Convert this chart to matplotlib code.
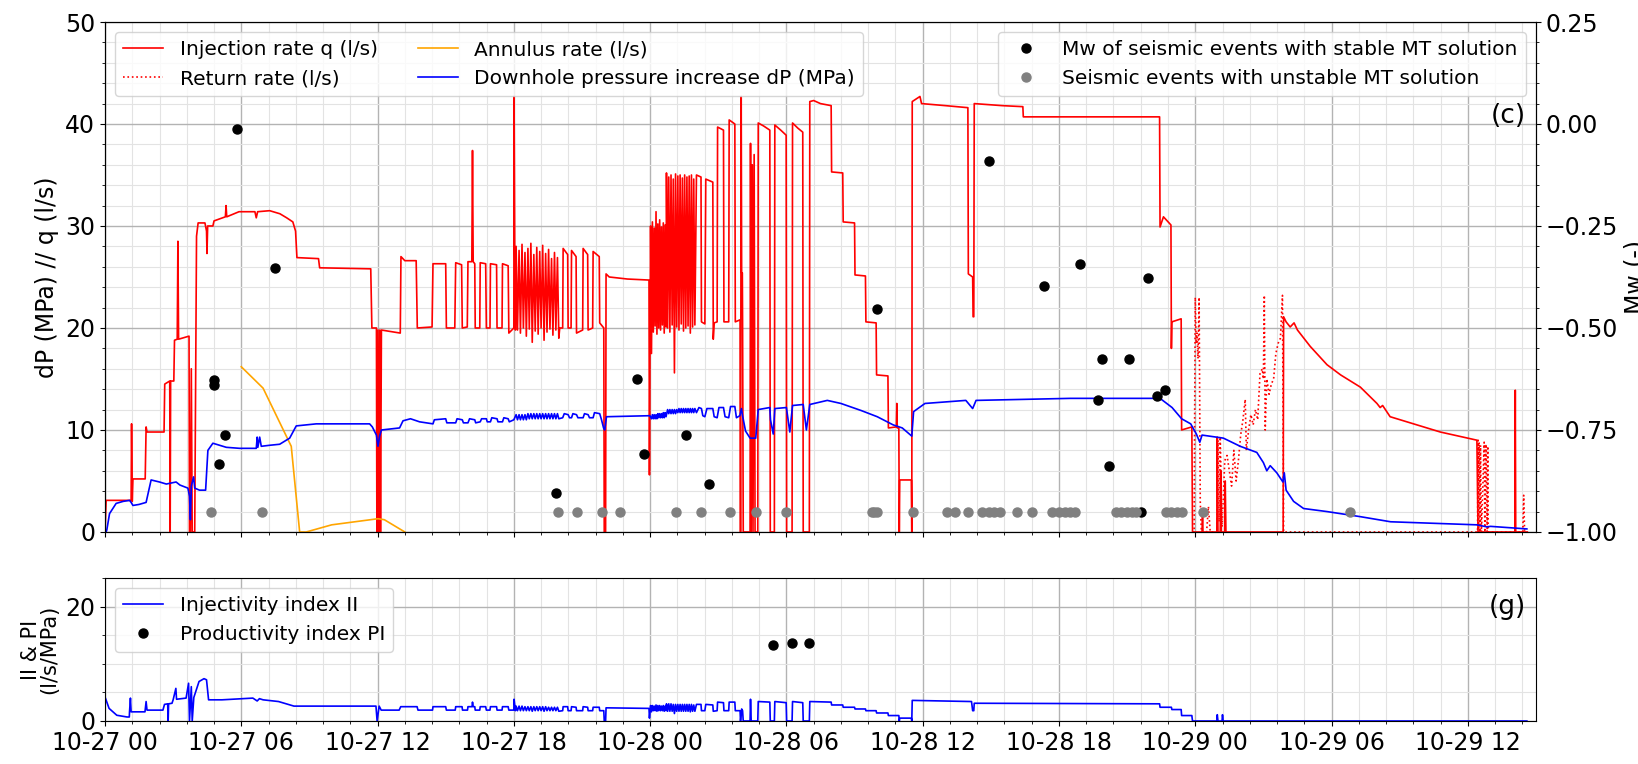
import matplotlib
matplotlib.use("Agg")
import matplotlib.pyplot as plt
import matplotlib.dates as mdates
import numpy as np
from datetime import datetime
from matplotlib.ticker import AutoMinorLocator, MultipleLocator

# time axis: hours after 10-27 00:00
T0 = mdates.date2num(datetime(2018, 10, 27))
X_END_H = 63.0

# injection rate q (l/s), (hour, value)
inj_pts = [
    (0.00, 0), (0.05, 3.1), (1.15, 3.1), (1.17, 10.6), (1.20, 3.0), (1.23, 5.2), (1.77, 5.2),
    (1.81, 10.3), (1.85, 9.8), (2.60, 9.8), (2.63, 14.5), (2.85, 14.8), (2.87, 0), (2.89, 14.8),
    (3.03, 14.8), (3.06, 18.8), (3.18, 18.9), (3.21, 28.5), (3.24, 18.9), (3.70, 19.2), (3.72, 0),
    (3.76, 0), (3.80, 16.0), (3.84, 0), (3.95, 0), (4.03, 29.0), (4.10, 30.3), (4.40, 30.3),
    (4.47, 29.5), (4.49, 27.3), (4.52, 30.0), (4.75, 30.0), (4.80, 30.5), (5.30, 30.9), (5.33, 32.0),
    (5.36, 30.9), (5.90, 31.4), (6.60, 31.4), (6.66, 30.8), (6.72, 31.4), (7.25, 31.5), (7.70, 31.2),
    (8.00, 30.8), (8.27, 30.4), (8.39, 29.5), (8.45, 26.9), (9.40, 26.8), (9.45, 25.9), (11.70, 25.8),
    (11.75, 20.0), (11.95, 20.0), (11.97, 0), (12.02, 19.8), (12.05, 0), (12.10, 19.8), (12.13, 0),
    (12.17, 19.8), (13.00, 19.5), (13.03, 27.0), (13.20, 26.6), (13.70, 26.6), (13.75, 20.0),
    (14.40, 20.1), (14.44, 26.3), (15.00, 26.3), (15.03, 20.0), (15.40, 20.0), (15.44, 26.4),
    (15.70, 26.2), (15.73, 20.0), (15.95, 20.1), (15.98, 26.5), (16.15, 26.5), (16.18, 37.4),
    (16.21, 26.5), (16.28, 26.3), (16.30, 20.0), (16.50, 20.0), (16.52, 26.4), (16.76, 26.3),
    (16.79, 20.0), (16.95, 20.0), (16.97, 26.3), (17.24, 26.2), (17.26, 20.0), (17.48, 20.0),
    (17.50, 26.3), (17.75, 26.1), (17.78, 19.5), (18.00, 20.0), (18.01, 42.7), (18.04, 27.5),
    (18.07, 19.8), (18.10, 28.0), (18.16, 19.8), (18.23, 27.6), (18.29, 19.5), (18.36, 28.2),
    (18.42, 20.0), (18.49, 27.4), (18.55, 19.2), (18.62, 27.8), (18.68, 19.9), (18.75, 28.3),
    (18.81, 18.6), (18.88, 27.2), (18.94, 19.7), (19.01, 27.9), (19.07, 19.4), (19.14, 27.5),
    (19.20, 20.0), (19.27, 28.1), (19.33, 18.8), (19.40, 27.3), (19.46, 19.6), (19.53, 27.7),
    (19.59, 19.9), (19.66, 26.8), (19.72, 19.3), (19.79, 27.4), (19.85, 19.8), (19.92, 26.9),
    (19.98, 19.0), (20.02, 20.0), (20.15, 20.0), (20.17, 27.8), (20.37, 27.2), (20.39, 20.0),
    (20.52, 20.0), (20.54, 27.6), (20.74, 27.0), (20.76, 19.5), (21.03, 19.8), (21.05, 27.8),
    (21.25, 27.2), (21.27, 19.8), (21.47, 20.0), (21.49, 27.5), (21.76, 27.0), (21.78, 20.5),
    (21.96, 20.0), (21.98, 0), (22.04, 0), (22.06, 25.3), (22.20, 25.0), (23.00, 24.8), (23.95, 24.7),
    (23.97, 5.6), (24.00, 20.0), (24.02, 30.0), (24.06, 17.5), (24.10, 30.4), (24.14, 19.6),
    (24.18, 29.8), (24.22, 20.2), (24.26, 31.4), (24.30, 19.4), (24.34, 30.2), (24.38, 20.0),
    (24.42, 30.6), (24.46, 19.8), (24.50, 29.9), (24.54, 20.3), (24.58, 30.3), (24.62, 19.5),
    (24.66, 30.1), (24.70, 20.1), (24.72, 35.2), (24.77, 20.0), (24.82, 34.8), (24.87, 19.6),
    (24.92, 35.0), (24.97, 20.3), (25.02, 34.6), (25.07, 15.6), (25.12, 35.1), (25.17, 20.1),
    (25.22, 34.9), (25.27, 19.8), (25.32, 35.0), (25.37, 20.4), (25.42, 34.7), (25.47, 19.7),
    (25.52, 35.0), (25.57, 20.0), (25.62, 34.8), (25.67, 20.2), (25.72, 34.9), (25.77, 19.5),
    (25.82, 35.0), (25.87, 20.1), (25.92, 34.6), (25.97, 20.3), (26.04, 35.0), (26.24, 34.8),
    (26.26, 20.6), (26.41, 20.4), (26.45, 34.6), (26.76, 34.3), (26.78, 18.9), (26.82, 20.5),
    (26.95, 20.6), (26.97, 39.7), (27.23, 39.4), (27.25, 20.6), (27.46, 20.6), (27.48, 40.4),
    (27.73, 40.0), (27.75, 20.6), (27.96, 20.8), (27.98, 0), (28.01, 42.7), (28.03, 25.4),
    (28.06, 25.4), (28.07, 20.8), (28.10, 0), (28.40, 0), (28.42, 38.1), (28.45, 0), (28.50, 36.0),
    (28.53, 0), (28.58, 37.0), (28.62, 0), (28.74, 0), (28.76, 40.1), (29.00, 39.8), (29.27, 39.4),
    (29.29, 0), (29.47, 0), (29.49, 39.9), (29.75, 39.4), (29.99, 38.9), (30.01, 0), (30.25, 0),
    (30.27, 40.1), (30.50, 39.6), (30.72, 39.2), (30.74, 0), (31.01, 0), (31.03, 42.2), (31.20, 42.3),
    (31.50, 42.0), (31.97, 41.8), (31.99, 35.3), (32.48, 35.2), (32.50, 30.4), (33.00, 30.3),
    (33.02, 25.2), (33.48, 25.1), (33.50, 20.6), (33.95, 20.5), (33.97, 15.4), (34.47, 15.3),
    (34.49, 10.2), (34.84, 10.3), (34.86, 12.6), (34.88, 10.2), (34.95, 10.2), (34.97, 0),
    (34.99, 5.1), (35.50, 5.1), (35.52, 0), (35.54, 42.2), (35.88, 42.7), (35.95, 42.0),
    (37.00, 41.8), (37.99, 41.6), (38.01, 25.3), (38.20, 25.0), (38.22, 21.1), (38.25, 21.1),
    (38.27, 42.0), (39.50, 41.8), (40.41, 41.7), (40.43, 40.7), (46.43, 40.7), (46.45, 29.9),
    (46.60, 30.9), (46.93, 30.1), (46.95, 18.0), (46.97, 20.6), (47.38, 20.9), (47.40, 10.0),
    (47.85, 10.3), (47.88, 0), (48.30, 0), (48.32, 2.0), (48.34, 0), (48.95, 0), (48.97, 9.3),
    (49.00, 0), (49.10, 0), (49.12, 6.0), (49.15, 0), (49.30, 0), (49.32, 5.0), (49.35, 0),
    (51.87, 0), (51.89, 21.1), (52.00, 20.6), (52.18, 20.1), (52.35, 20.5), (52.50, 19.8),
    (53.06, 18.2), (53.80, 16.4), (54.40, 15.4), (55.27, 14.2), (56.00, 12.6), (56.14, 12.2),
    (56.25, 12.4), (56.58, 11.3), (57.32, 10.8), (58.79, 9.8), (60.40, 9.0), (60.45, 0),
    (62.07, 0), (62.09, 13.9), (62.11, 0), (62.62, 0),
]

# return rate (l/s)
ret_pts = [
    (47.88, 0), (47.95, 0), (48.00, 23.0), (48.04, 18.5), (48.08, 19.5), (48.12, 17.0), (48.17, 23.0),
    (48.22, 3.0), (48.27, 0), (48.50, 0), (48.58, 2.5), (48.66, 0), (48.95, 0), (49.00, 9.0),
    (49.05, 1.0), (49.10, 9.3), (49.18, 0.5), (49.30, 7.0), (49.40, 7.5), (49.50, 6.0), (49.60, 4.5),
    (49.70, 8.0), (49.80, 5.0), (49.90, 7.0), (50.00, 9.5), (50.10, 11.0), (50.20, 13.0), (50.25, 8.0),
    (50.35, 10.0), (50.45, 11.5), (50.55, 10.5), (50.65, 12.0), (50.75, 11.0), (50.85, 15.5),
    (50.95, 16.0), (51.00, 15.0), (51.04, 23.2), (51.08, 10.0), (51.15, 15.0), (51.25, 13.5),
    (51.35, 14.5), (51.45, 15.0), (51.55, 17.5), (51.65, 18.5), (51.75, 19.0), (51.84, 23.2),
    (51.87, 10.0), (51.89, 0), (60.43, 0), (60.45, 9.0), (60.47, 0), (60.50, 8.8), (60.53, 0),
    (60.56, 8.5), (60.60, 0), (60.72, 8.8), (60.75, 0), (60.80, 8.6), (60.85, 0), (60.88, 8.4),
    (60.90, 0), (62.42, 0), (62.46, 3.6), (62.50, 0),
]

# annulus rate (l/s)
ann_pts = [(6.00, 16.2), (6.96, 14.1), (8.20, 8.4), (8.57, 0), (8.86, 0), (9.98, 0.7),
           (12.02, 1.3), (12.30, 1.2), (13.20, 0)]

# downhole pressure increase dP (MPa)
dp_pts = [
    (0.05, 0), (0.08, 0.2), (0.20, 1.8), (0.49, 2.8), (0.80, 3.0), (1.08, 3.1), (1.15, 2.9),
    (1.23, 2.6), (1.50, 2.7), (1.81, 2.9), (2.03, 5.1), (2.40, 4.9), (2.70, 4.7), (3.13, 4.9),
    (3.30, 4.6), (3.65, 4.3), (3.72, 3.5), (3.76, 1.2), (3.80, 4.5), (3.90, 5.4), (3.95, 4.3),
    (4.16, 4.1), (4.43, 4.1), (4.53, 8.0), (4.75, 8.7), (5.34, 8.3), (5.93, 8.2), (6.66, 8.2),
    (6.70, 9.3), (6.73, 8.3), (6.81, 9.3), (6.88, 8.4), (7.25, 8.5), (7.69, 8.6), (8.13, 9.2),
    (8.42, 10.4), (9.30, 10.6), (11.65, 10.6), (11.77, 10.3), (11.95, 9.5), (12.02, 8.4),
    (12.09, 9.4), (12.17, 10.0), (12.97, 10.2), (13.12, 10.9), (13.45, 11.1), (13.71, 10.9),
    (13.85, 10.8), (14.44, 10.6), (14.50, 11.0), (15.00, 11.1), (15.05, 10.7), (15.44, 10.7),
    (15.50, 11.1), (15.73, 11.0), (15.78, 10.7), (15.98, 10.7), (16.05, 11.1), (16.28, 11.0),
    (16.32, 10.7), (16.52, 10.8), (16.58, 11.1), (16.79, 11.1), (16.83, 10.8), (16.97, 10.8),
    (17.03, 11.2), (17.26, 11.1), (17.30, 10.8), (17.50, 10.8), (17.56, 11.2), (17.75, 11.1),
    (17.80, 10.8), (18.00, 11.0), (18.10, 11.5), (18.16, 11.0), (18.23, 11.5), (18.29, 11.0),
    (18.36, 11.5), (18.42, 11.0), (18.49, 11.5), (18.55, 11.0), (18.62, 11.6), (18.68, 11.1),
    (18.75, 11.6), (18.81, 11.1), (18.88, 11.6), (18.94, 11.1), (19.01, 11.6), (19.07, 11.1),
    (19.14, 11.6), (19.20, 11.1), (19.27, 11.6), (19.33, 11.1), (19.40, 11.6), (19.46, 11.1),
    (19.53, 11.6), (19.59, 11.1), (19.66, 11.6), (19.72, 11.1), (19.79, 11.6), (19.85, 11.1),
    (19.92, 11.6), (19.98, 11.1), (20.15, 11.2), (20.22, 11.6), (20.39, 11.5), (20.45, 11.2),
    (20.54, 11.2), (20.60, 11.6), (20.76, 11.5), (20.82, 11.2), (21.05, 11.2), (21.11, 11.6),
    (21.27, 11.5), (21.33, 11.2), (21.49, 11.2), (21.55, 11.7), (21.78, 11.6), (21.86, 11.0),
    (21.95, 10.2), (22.00, 10.0), (22.08, 11.3), (23.99, 11.4), (24.06, 11.1), (24.10, 11.5),
    (24.14, 11.1), (24.18, 11.5), (24.22, 11.1), (24.26, 11.5), (24.30, 11.1), (24.34, 11.6),
    (24.38, 11.2), (24.42, 11.6), (24.46, 11.2), (24.50, 11.6), (24.54, 11.2), (24.58, 11.7),
    (24.62, 11.2), (24.66, 11.7), (24.70, 11.3), (24.77, 12.0), (24.82, 11.6), (24.87, 12.0),
    (24.92, 11.6), (24.97, 12.0), (25.02, 11.6), (25.07, 12.0), (25.12, 11.6), (25.17, 12.0),
    (25.22, 11.7), (25.27, 12.1), (25.32, 11.7), (25.37, 12.1), (25.42, 11.7), (25.47, 12.1),
    (25.52, 11.7), (25.57, 12.1), (25.62, 11.7), (25.67, 12.1), (25.72, 11.7), (25.77, 12.1),
    (25.82, 11.7), (25.87, 12.1), (25.92, 11.7), (25.97, 12.1), (26.04, 11.7), (26.15, 12.2),
    (26.26, 12.1), (26.32, 11.4), (26.41, 11.3), (26.50, 12.1), (26.76, 12.1), (26.82, 11.3),
    (26.95, 11.2), (27.03, 12.2), (27.23, 12.2), (27.30, 11.3), (27.46, 11.2), (27.54, 12.3),
    (27.73, 12.3), (27.80, 11.2), (27.95, 11.4), (28.02, 12.1), (28.07, 11.4), (28.20, 9.9),
    (28.40, 9.2), (28.65, 9.2), (28.76, 12.0), (29.27, 12.2), (29.30, 11.0), (29.42, 9.6),
    (29.49, 12.1), (30.00, 12.2), (30.15, 9.8), (30.27, 12.4), (30.74, 12.5), (30.88, 10.0),
    (31.03, 12.5), (31.80, 12.9), (32.40, 12.6), (33.30, 11.9), (34.00, 11.3), (34.70, 10.5),
    (35.10, 10.2), (35.52, 9.4), (35.60, 11.8), (36.10, 12.6), (37.90, 12.9), (38.20, 12.1),
    (38.35, 12.9), (42.50, 13.1), (46.45, 13.1), (46.98, 12.2), (47.40, 11.1), (47.80, 10.6),
    (48.05, 9.6), (48.20, 8.8), (48.30, 9.5), (49.24, 9.2), (49.98, 8.4), (50.71, 7.8),
    (51.00, 6.8), (51.15, 6.0), (51.30, 6.5), (51.59, 5.8), (51.86, 4.9), (51.92, 5.8),
    (52.00, 4.1), (52.33, 3.0), (52.77, 2.3), (53.80, 2.0), (55.27, 1.5), (56.60, 1.0),
    (58.50, 0.85), (60.40, 0.7), (60.84, 0.5), (61.00, 0.55), (62.60, 0.3),
]

# seismic events
mw_stable_h = [4.78, 4.82, 5.01, 5.29, 5.82, 7.47, 19.85, 23.43, 23.71, 25.6, 26.59, 34.0,
               38.92, 41.34, 42.93, 43.7, 43.91, 44.22, 45.07, 45.6, 45.9, 46.31, 46.67]
mw_stable = [-0.627, -0.64, -0.833, -0.762, -0.0125, -0.354, -0.904, -0.626, -0.809, -0.762,
             -0.882, -0.454, -0.09, -0.397, -0.342, -0.676, -0.576, -0.838, -0.576, -0.95,
             -0.377, -0.666, -0.652]
unstable_h = [4.65, 6.92, 19.95, 20.76, 21.9, 22.67, 25.16, 26.23, 27.51, 28.66, 30.0, 33.75,
              33.87, 34.0, 35.59, 37.06, 37.42, 38.0, 38.6, 38.9, 39.15, 39.4, 40.17, 40.8,
              41.7, 42.0, 42.27, 42.5, 42.7, 44.5, 44.75, 45.0, 45.2, 45.4, 46.7, 46.95, 47.2,
              47.4, 48.33, 54.8]
unstable_mw = -0.95

# injectivity index II (l/s/MPa)
ii_pts = [
    (0.00, 4.2), (0.18, 2.2), (0.52, 1.0), (0.97, 0.7), (1.07, 0.7), (1.08, 1.6), (1.12, 4.0),
    (1.15, 1.6), (1.76, 1.6), (1.81, 3.4), (1.85, 1.9), (2.55, 1.9), (2.62, 2.9), (2.76, 3.0),
    (2.78, 0), (2.80, 3.0), (2.95, 3.1), (3.00, 3.7), (3.12, 5.7), (3.15, 3.8), (3.57, 4.0),
    (3.68, 6.6), (3.72, 0), (3.80, 6.0), (3.84, 0), (3.91, 4.1), (4.14, 6.9), (4.36, 7.4),
    (4.47, 7.2), (4.56, 3.7), (5.15, 3.7), (6.51, 4.0), (6.70, 3.5), (6.80, 3.9), (6.96, 3.7),
    (7.64, 3.4), (8.32, 2.6), (11.93, 2.6), (11.98, 0), (12.07, 2.6), (12.16, 1.9), (12.95, 1.9),
    (13.02, 2.5), (13.74, 2.5), (13.78, 1.9), (14.42, 1.9), (14.44, 2.5), (15.00, 2.5), (15.03, 1.9),
    (15.42, 1.9), (15.44, 2.5), (15.72, 2.5), (15.74, 1.9), (15.96, 1.9), (15.98, 2.5), (16.16, 2.5),
    (16.18, 3.3), (16.21, 2.5), (16.28, 2.5), (16.30, 1.9), (16.50, 1.9), (16.52, 2.5), (16.76, 2.5),
    (16.79, 1.9), (16.95, 1.9), (16.97, 2.5), (17.24, 2.5), (17.26, 1.9), (17.48, 1.9), (17.50, 2.5),
    (17.75, 2.5), (17.78, 1.9), (18.00, 1.9), (18.01, 3.8), (18.07, 1.8), (18.10, 2.6), (18.16, 1.8),
    (18.23, 2.6), (18.29, 1.8), (18.36, 2.6), (18.42, 1.8), (18.49, 2.5), (18.55, 1.8), (18.62, 2.5),
    (18.68, 1.8), (18.75, 2.5), (18.81, 1.7), (18.88, 2.5), (18.94, 1.8), (19.01, 2.5), (19.07, 1.8),
    (19.14, 2.5), (19.20, 1.8), (19.27, 2.5), (19.33, 1.7), (19.40, 2.5), (19.46, 1.8), (19.53, 2.4),
    (19.59, 1.8), (19.66, 2.4), (19.72, 1.8), (19.79, 2.4), (19.85, 1.8), (19.92, 2.4), (19.98, 1.7),
    (20.15, 1.8), (20.17, 2.5), (20.37, 2.5), (20.39, 1.8), (20.52, 1.8), (20.54, 2.5), (20.74, 2.4),
    (20.76, 1.8), (21.03, 1.8), (21.05, 2.5), (21.25, 2.4), (21.27, 1.8), (21.47, 1.8), (21.49, 2.4),
    (21.76, 2.4), (21.78, 1.8), (21.96, 1.8), (21.98, 0), (22.04, 0), (22.06, 2.3), (23.95, 2.2),
    (23.97, 0.5), (24.00, 1.8), (24.02, 2.7), (24.06, 1.6), (24.10, 2.7), (24.14, 1.8), (24.18, 2.6),
    (24.22, 1.8), (24.26, 2.8), (24.30, 1.7), (24.34, 2.7), (24.38, 1.8), (24.42, 2.7), (24.46, 1.8),
    (24.50, 2.6), (24.54, 1.8), (24.58, 2.7), (24.62, 1.7), (24.66, 2.6), (24.70, 1.8), (24.72, 3.0),
    (24.77, 1.7), (24.82, 3.0), (24.87, 1.7), (24.92, 3.0), (24.97, 1.7), (25.02, 2.9), (25.07, 1.3),
    (25.12, 2.9), (25.17, 1.7), (25.22, 2.9), (25.27, 1.7), (25.32, 2.9), (25.37, 1.7), (25.42, 2.9),
    (25.47, 1.7), (25.52, 2.9), (25.57, 1.7), (25.62, 2.9), (25.67, 1.7), (25.72, 2.9), (25.77, 1.6),
    (25.82, 2.9), (25.87, 1.7), (25.92, 2.8), (25.97, 1.7), (26.04, 2.9), (26.24, 2.9), (26.26, 1.8),
    (26.41, 1.8), (26.45, 2.9), (26.76, 2.8), (26.78, 1.7), (26.95, 1.8), (26.97, 3.3), (27.23, 3.2),
    (27.25, 1.8), (27.46, 1.8), (27.48, 3.3), (27.73, 3.3), (27.75, 1.8), (27.96, 1.8), (27.98, 0),
    (28.03, 2.1), (28.07, 1.8), (28.10, 0), (28.40, 0), (28.42, 3.8), (28.45, 0), (28.74, 0),
    (28.76, 3.4), (29.27, 3.3), (29.29, 0), (29.47, 0), (29.49, 3.4), (29.99, 3.2), (30.01, 0),
    (30.25, 0), (30.27, 3.4), (30.72, 3.2), (30.74, 0), (31.01, 0), (31.03, 3.4), (31.97, 3.3),
    (31.99, 2.8), (32.48, 2.8), (32.50, 2.4), (33.00, 2.4), (33.02, 2.1), (33.48, 2.1), (33.50, 1.8),
    (33.95, 1.8), (33.97, 1.4), (34.47, 1.4), (34.49, 0.95), (34.95, 0.95), (34.97, 0), (34.99, 0.5),
    (35.50, 0.5), (35.52, 0), (35.54, 3.6), (38.15, 3.4), (38.20, 1.8), (38.25, 1.8), (38.27, 3.1),
    (46.43, 3.0), (46.45, 2.4), (46.95, 2.4), (46.97, 2.0), (47.38, 2.0), (47.40, 0.95), (47.85, 0.95),
    (47.88, 0), (48.95, 0), (48.97, 1.1), (49.00, 0), (49.18, 0), (49.20, 1.1), (49.23, 0), (62.60, 0),
]

# productivity index PI (l/s/MPa)
pi_h = [29.4, 30.25, 31.0]
pi_val = [13.3, 13.6, 13.7]


def to_dates(hours):
    return T0 + np.asarray(hours, dtype=float) / 24.0


def split(pts):
    h, v = zip(*pts)
    return to_dates(h), np.array(v)


TICK_FS = 17
LEG_FS = 14.5
MAJ_GRID = dict(color="#b3b3b3", lw=1.0)
MIN_GRID = dict(color="#e3e3e3", lw=0.8)

fig = plt.figure(figsize=(16.38, 7.64), dpi=100)
ax = fig.add_axes([0.0641, 0.3037, 0.8736, 0.6675])
axb = fig.add_axes([0.0641, 0.0563, 0.8736, 0.1872], sharex=ax)
ax2 = ax.twinx()

# main panel
x, y = split(inj_pts)
l_inj, = ax.plot(x, y, color="red", lw=1.2, label="Injection rate q (l/s)")
x, y = split(ret_pts)
l_ret, = ax.plot(x, y, color="red", lw=1.2, ls=":", label="Return rate (l/s)")
x, y = split(ann_pts)
l_ann, = ax.plot(x, y, color="orange", lw=1.2, label="Annulus rate (l/s)")
x, y = split(dp_pts)
l_dp, = ax.plot(x, y, color="blue", lw=1.2, label="Downhole pressure increase dP (MPa)")

ax.set_ylim(0, 50)
ax.yaxis.set_major_locator(MultipleLocator(10))
ax.yaxis.set_minor_locator(AutoMinorLocator(5))
ax.set_ylabel("dP (MPa) // q (l/s)", fontsize=TICK_FS)
ax.grid(True, which="major", **MAJ_GRID)
ax.grid(True, which="minor", **MIN_GRID)
ax.tick_params(labelsize=TICK_FS, labelbottom=False)
ax.legend(handles=[l_inj, l_ret, l_ann, l_dp], ncol=2, loc="upper left", fontsize=LEG_FS)
ax.text(0.993, 0.816, "(c)", transform=ax.transAxes, ha="right", va="center", fontsize=19)

# seismic events on the Mw axis
ax2.plot(to_dates(mw_stable_h), mw_stable, "o", color="black", ms=6.5, ls="none",
         label="Mw of seismic events with stable MT solution")
ax2.plot(to_dates(unstable_h), [unstable_mw] * len(unstable_h), "o", color="gray", ms=6.5,
         ls="none", label="Seismic events with unstable MT solution")
ax2.set_ylim(-1.0, 0.25)
ax2.yaxis.set_major_locator(MultipleLocator(0.25))
ax2.yaxis.set_minor_locator(AutoMinorLocator(5))
ax2.set_ylabel("Mw (-)", fontsize=TICK_FS)
ax2.tick_params(labelsize=TICK_FS)
ax2.legend(loc="upper right", fontsize=LEG_FS)

# bottom panel
x, y = split(ii_pts)
axb.plot(x, y, color="blue", lw=1.2, label="Injectivity index II")
axb.plot(to_dates(pi_h), pi_val, "o", color="black", ms=6.5, ls="none",
         label="Productivity index PI")
axb.set_ylim(0, 25)
axb.yaxis.set_major_locator(MultipleLocator(20))
axb.yaxis.set_minor_locator(AutoMinorLocator(4))
axb.set_ylabel("II & PI\n(l/s/MPa)", fontsize=15, linespacing=0.95)
axb.grid(True, which="major", **MAJ_GRID)
axb.grid(True, which="minor", **MIN_GRID)
axb.tick_params(labelsize=TICK_FS)
axb.legend(loc="upper left", fontsize=LEG_FS)
axb.text(0.993, 0.797, "(g)", transform=axb.transAxes, ha="right", va="center", fontsize=19)

ax.set_xlim(to_dates([0, X_END_H]))
axb.xaxis.set_major_locator(mdates.HourLocator(byhour=[0, 6, 12, 18]))
axb.xaxis.set_major_formatter(mdates.DateFormatter("%m-%d %H"))
axb.xaxis.set_minor_locator(AutoMinorLocator(5))

fig.savefig("out.png", dpi=100)
